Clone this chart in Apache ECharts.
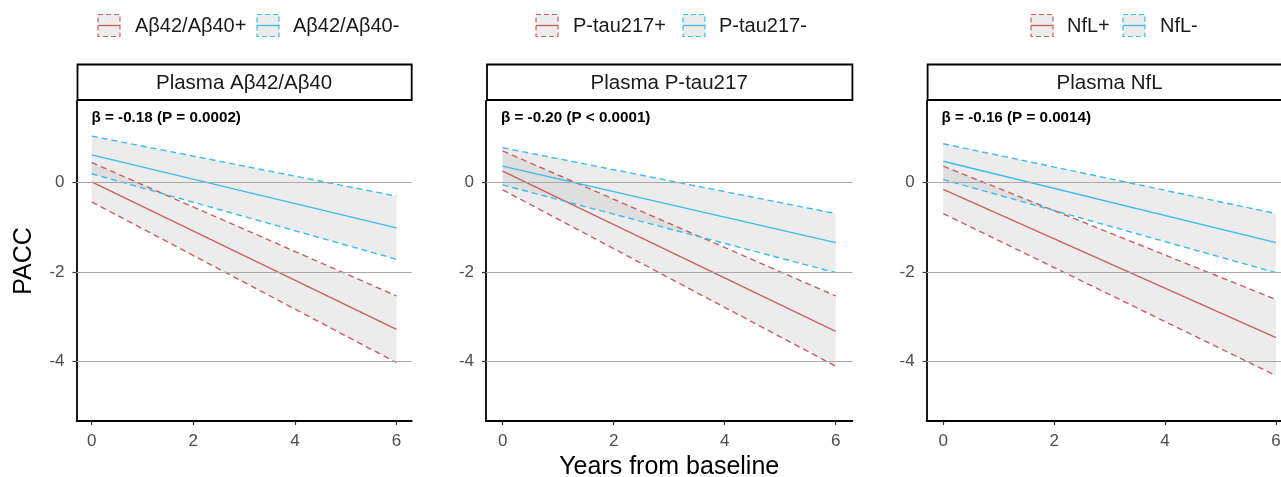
<!DOCTYPE html>
<html>
<head>
<meta charset="utf-8">
<script src="https://cdn.jsdelivr.net/npm/echarts@6/dist/echarts.min.js"></script>
<style>html,body{margin:0;padding:0;background:#fff}#c{width:1281px;height:477px}</style>
</head>
<body>
<div id="c"></div>
<script>
// ---- data ----
const years = [0, 6];
const xTicks = [0, 2, 4, 6];
const yTicks = [0, -2, -4];
const panelTitles = ['Plasma Aβ42/Aβ40', 'Plasma P-tau217', 'Plasma NfL'];
const annotations = ['β = -0.18 (P = 0.0002)', 'β = -0.20 (P < 0.0001)', 'β = -0.16 (P = 0.0014)'];
const posLabels = ['Aβ42/Aβ40+', 'P-tau217+', 'NfL+'];
const negLabels = ['Aβ42/Aβ40-', 'P-tau217-', 'NfL-'];

// panel 1
const p1PosFit = [0.02, -3.28], p1PosLo = [-0.43, -4.02], p1PosHi = [0.45, -2.53];
const p1NegFit = [0.62, -1.01], p1NegLo = [0.20, -1.71], p1NegHi = [1.04, -0.30];
// panel 2
const p2PosFit = [0.26, -3.32], p2PosLo = [-0.16, -4.10], p2PosHi = [0.71, -2.53];
const p2NegFit = [0.37, -1.34], p2NegLo = [-0.05, -2.01], p2NegHi = [0.78, -0.69];
// panel 3
const p3PosFit = [-0.15, -3.46], p3PosLo = [-0.69, -4.31], p3PosHi = [0.37, -2.61];
const p3NegFit = [0.48, -1.34], p3NegLo = [0.07, -2.01], p3NegHi = [0.87, -0.69];

const panels = [
  {pos: [p1PosLo, p1PosFit, p1PosHi], neg: [p1NegLo, p1NegFit, p1NegHi]},
  {pos: [p2PosLo, p2PosFit, p2PosHi], neg: [p2NegLo, p2NegFit, p2NegHi]},
  {pos: [p3PosLo, p3PosFit, p3PosHi], neg: [p3NegLo, p3NegFit, p3NegHi]}
];

// ---- style ----
const RED = '#c9605e', BLUE = '#3bbbee';
const FONT = 'Liberation Sans, Arial, sans-serif';
const BAND = 'rgba(185,185,185,0.27)';
const gridsPx = [
  {left: 76.5, top: 101, width: 335.2, height: 320},
  {left: 486, top: 101, width: 366.4, height: 320},
  {left: 926.6, top: 101, width: 366, height: 320}
];

const pts = arr => years.map((x, i) => [x, arr[i]]);
const bandData = (lo, hi) => years.map((x, i) => [x, lo[i], hi[i]]);

const series = [];
const xAxis = [], yAxis = [], grid = [];
const graphic = [];

gridsPx.forEach((g, k) => {
  grid.push(Object.assign({containLabel: false, outerBoundsMode: 'none'}, g));
  xAxis.push({
    type: 'value', gridIndex: k, min: -0.3, max: 6.3,
    axisLine: {show: true, onZero: false, lineStyle: {color: '#000', width: 1.8}},
    axisTick: {show: true, customValues: xTicks, length: 4, lineStyle: {color: '#333', width: 1.2}},
    axisLabel: {customValues: xTicks, color: '#4d4d4d', fontSize: 17, fontFamily: FONT, margin: 12},
    splitLine: {show: false},
    name: k === 1 ? 'Years from baseline' : '',
    nameLocation: 'middle', nameGap: 34,
    nameTextStyle: {fontSize: 25, color: '#000', fontFamily: FONT}
  });
  yAxis.push({
    type: 'value', gridIndex: k, min: -5.325, max: 1.825,
    axisLine: {show: true, onZero: false, lineStyle: {color: '#000', width: 1.8}},
    axisTick: {show: true, customValues: yTicks, length: 4, lineStyle: {color: '#333', width: 1.2}},
    axisLabel: {customValues: yTicks, color: '#4d4d4d', fontSize: 17, fontFamily: FONT, margin: 12},
    splitLine: {show: false},
    name: k === 0 ? 'PACC' : '',
    nameLocation: 'middle', nameGap: 40, nameRotate: 90,
    nameTextStyle: {fontSize: 25, color: '#000', fontFamily: FONT}
  });

  // gridlines
  series.push({
    type: 'line', xAxisIndex: k, yAxisIndex: k, data: [], silent: true, z: 0,
    markLine: {
      silent: true, symbol: 'none', label: {show: false}, animation: false,
      lineStyle: {color: '#a8a8a8', width: 1, type: 'solid'},
      data: yTicks.map(v => ({yAxis: v}))
    }
  });

  const p = panels[k];
  ['pos', 'neg'].forEach(key => {
    const [lo, fit, hi] = p[key];
    const data = bandData(lo, hi);
    series.push({
      type: 'custom', xAxisIndex: k, yAxisIndex: k, data: data, silent: true, z: 1,
      encode: {x: 0, y: [1, 2]},
      renderItem: (params, api) => {
        if (params.dataIndex !== 0) return null;
        const upper = data.map(d => api.coord([d[0], d[2]]));
        const lower = data.map(d => api.coord([d[0], d[1]])).reverse();
        return {type: 'polygon', shape: {points: upper.concat(lower)}, style: {fill: BAND}};
      }
    });
  });
  [['pos', RED], ['neg', BLUE]].forEach(([key, col]) => {
    const [lo, fit, hi] = p[key];
    [lo, hi].forEach(arr => series.push({
      type: 'line', xAxisIndex: k, yAxisIndex: k, data: pts(arr), symbol: 'none', silent: true, z: 3,
      lineStyle: {color: col, width: 1.4, type: [6, 4]}
    }));
    series.push({
      type: 'line', xAxisIndex: k, yAxisIndex: k, data: pts(fit), symbol: 'none', silent: true, z: 3,
      lineStyle: {color: col, width: 1.4}
    });
  });

  // strip header
  graphic.push({
    type: 'rect', shape: {x: g.left + 1, y: 64.5, width: g.width - 1, height: 35.5},
    style: {fill: '#fff', stroke: '#000', lineWidth: 1.8}, z: 10
  });
  graphic.push({
    type: 'text', x: g.left + g.width / 2, y: 83,
    style: {text: panelTitles[k], fontSize: 20.5, fontFamily: FONT, fill: '#1a1a1a', align: 'center', verticalAlign: 'middle'}, z: 11
  });
  // annotation
  graphic.push({
    type: 'text', x: g.left + 15, y: 118,
    style: {text: annotations[k], fontSize: 15.2, fontWeight: 'bold', fontFamily: FONT, fill: '#000', align: 'left', verticalAlign: 'middle'}, z: 11
  });
});

// legends
const legendPos = [
  {i1: 98, t1: 135, i2: 257, t2: 293},
  {i1: 536, t1: 573, i2: 683, t2: 719},
  {i1: 1031, t1: 1067, i2: 1123, t2: 1160}
];
legendPos.forEach((L, k) => {
  [[L.i1, L.t1, RED, posLabels[k]], [L.i2, L.t2, BLUE, negLabels[k]]].forEach(([ix, tx, col, lab]) => {
    graphic.push({
      type: 'rect', shape: {x: ix, y: 14.5, width: 22, height: 22},
      style: {fill: '#ececec', stroke: col, lineWidth: 1.2, lineDash: [5, 3]}, z: 10
    });
    graphic.push({
      type: 'line', shape: {x1: ix, y1: 25.5, x2: ix + 22, y2: 25.5},
      style: {stroke: col, lineWidth: 1.3}, z: 11
    });
    graphic.push({
      type: 'text', x: tx, y: 26,
      style: {text: lab, fontSize: 20, fontFamily: FONT, fill: '#1a1a1a', align: 'left', verticalAlign: 'middle'}, z: 11
    });
  });
});

const chart = echarts.init(document.getElementById('c'), null, {renderer: 'canvas'});
chart.setOption({
  animation: false,
  backgroundColor: '#fff',
  grid, xAxis, yAxis, series, graphic
});
</script>
</body>
</html>
